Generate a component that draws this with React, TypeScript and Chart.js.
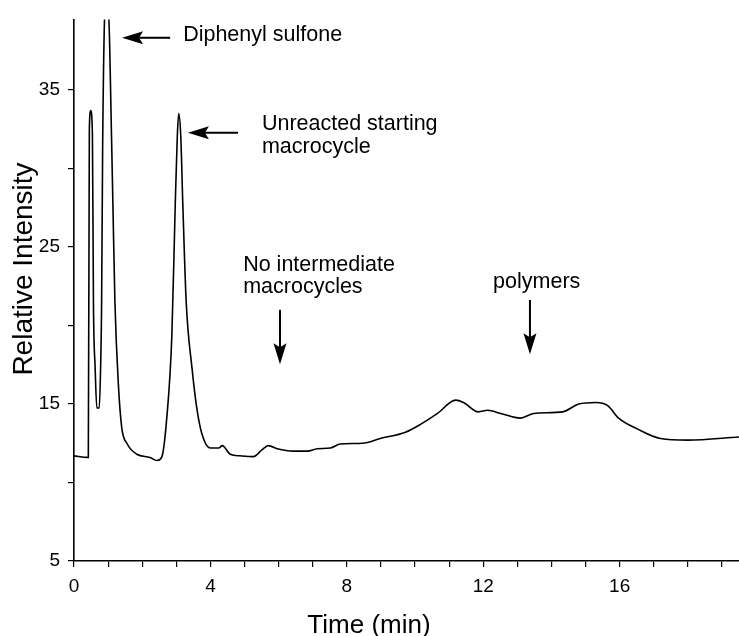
import React, { useEffect, useRef } from "react";
import { Chart, registerables } from "chart.js";

Chart.register(...registerables);

// Retention time (min)
const times = [0, 0.40, 0.42, 0.45, 0.49, 0.54, 0.57, 0.62, 0.67, 0.74, 0.78, 0.81, 0.84, 0.91, 0.97, 1.04, 1.08, 1.14, 1.20, 1.30, 1.40, 1.55, 1.84, 2.23, 2.43, 2.57, 2.72, 2.87, 2.97, 3.03, 3.07, 3.13, 3.19, 3.29, 3.46, 3.60, 3.75, 3.99, 4.24, 4.35, 4.58, 4.87, 5.26, 5.52, 5.70, 5.96, 6.43, 6.84, 7.13, 7.52, 7.81, 8.46, 8.98, 9.72, 10.16, 10.66, 11.19, 11.42, 11.86, 12.13, 12.51, 13.09, 13.48, 14.33, 14.80, 15.30, 15.65, 15.97, 16.53, 17.20, 18.0, 19.5];
// Relative intensity
const intensity = [11.7, 11.6, 11.6, 32.5, 33.7, 32.2, 21.5, 17.3, 14.75, 14.75, 17.3, 21.5, 31.4, 40.5, 41.5, 38.4, 34.2, 27.8, 21.5, 16.3, 13.5, 12.5, 11.8, 11.6, 11.4, 11.6, 14.1, 19.4, 27.8, 32.1, 33.5, 32.1, 27.8, 21.5, 17.3, 14.75, 13.1, 12.2, 12.2, 12.35, 11.8, 11.7, 11.65, 12.1, 12.35, 12.15, 12.0, 12.0, 12.15, 12.2, 12.45, 12.5, 12.8, 13.2, 13.7, 14.4, 15.25, 15.1, 14.5, 14.6, 14.4, 14.1, 14.4, 14.5, 15.0, 15.1, 14.9, 14.1, 13.4, 12.8, 12.7, 12.9];

const xTickValues = [0, 1, 2, 3, 4, 5, 6, 7, 8, 9, 10, 11, 12, 13, 14, 15, 16, 17, 18, 19];
const xTickLabels = ["0", "", "", "", "4", "", "", "", "8", "", "", "", "12", "", "", "", "16", "", "", ""];
const yTickValues = [5, 10, 15, 20, 25, 30, 35];
const yTickLabels = ["5", "", "15", "", "25", "", "35"];

const X_MIN = 0;
const X_MAX = 19.5;
const Y_MIN = 5;
const Y_MAX = 39.5;

const xTitle = "Time (min)";
const yTitle = "Relative Intensity";
// title anchor positions in data units
const xTitleAt = 8.65;
const yTitleAt = 23.6;

// Annotation texts (data coordinates: x in min, y = baseline intensity)
const noteTexts = ["Diphenyl sulfone", "Unreacted starting", "macrocycle", "No intermediate", "macrocycles", "polymers"];
const noteX = [3.2, 5.51, 5.51, 4.96, 4.96, 12.29];
const noteY = [38.1, 32.45, 31.0, 23.45, 22.05, 22.4];

// Arrows (tail -> tip) in data coordinates
const arrowFromX = [2.82, 4.81, 6.04, 13.37];
const arrowFromY = [38.33, 32.28, 21.0, 21.63];
const arrowToX = [1.41, 3.34, 6.04, 13.37];
const arrowToY = [38.33, 32.28, 17.54, 18.17];

const FONT = "'Liberation Sans', Arial, Helvetica, sans-serif";

const annotationPlugin = {
  id: "annotations",
  afterDraw(chart: any) {
    const { ctx, scales } = chart;
    const xs = scales.x;
    const ys = scales.y;
    ctx.save();
    ctx.fillStyle = "#000";
    ctx.strokeStyle = "#000";
    ctx.font = `21.5px ${FONT}`;
    ctx.textBaseline = "alphabetic";
    ctx.textAlign = "left";
    noteTexts.forEach((t, i) => {
      ctx.fillText(t, xs.getPixelForValue(noteX[i]), ys.getPixelForValue(noteY[i]));
    });
    for (let i = 0; i < arrowFromX.length; i++) {
      const x1 = xs.getPixelForValue(arrowFromX[i]);
      const y1 = ys.getPixelForValue(arrowFromY[i]);
      const x2 = xs.getPixelForValue(arrowToX[i]);
      const y2 = ys.getPixelForValue(arrowToY[i]);
      const ang = Math.atan2(y2 - y1, x2 - x1);
      const headLen = 21;
      const headHalf = 6.5;
      const bx = x2 - Math.cos(ang) * headLen;
      const by = y2 - Math.sin(ang) * headLen;
      ctx.lineWidth = 2;
      ctx.beginPath();
      ctx.moveTo(x1, y1);
      ctx.lineTo(bx + Math.cos(ang) * 4, by + Math.sin(ang) * 4);
      ctx.stroke();
      const px = -Math.sin(ang);
      const py = Math.cos(ang);
      ctx.beginPath();
      ctx.moveTo(x2, y2);
      ctx.lineTo(bx + px * headHalf, by + py * headHalf);
      ctx.lineTo(bx + Math.cos(ang) * 4, by + Math.sin(ang) * 4);
      ctx.lineTo(bx - px * headHalf, by - py * headHalf);
      ctx.closePath();
      ctx.fill();
    }
    // axis titles
    ctx.textAlign = "center";
    ctx.textBaseline = "alphabetic";
    ctx.font = `26px ${FONT}`;
    ctx.fillText(xTitle, xs.getPixelForValue(xTitleAt), chart.height - 3);
    ctx.save();
    ctx.font = `28px ${FONT}`;
    ctx.translate(32, ys.getPixelForValue(yTitleAt));
    ctx.rotate(-Math.PI / 2);
    ctx.fillText(yTitle, 0, 0);
    ctx.restore();
    ctx.restore();
  },
};

export default function App() {
  const ref = useRef<HTMLCanvasElement | null>(null);
  useEffect(() => {
    if (!ref.current) return;
    const chart = new Chart(ref.current, {
      type: "line",
      data: {
        datasets: [
          {
            data: times.map((t, i) => ({ x: t, y: intensity[i] })),
            borderColor: "#000",
            borderWidth: 1.6,
            pointRadius: 0,
            fill: false,
            cubicInterpolationMode: "monotone",
          },
        ],
      },
      options: {
        responsive: false,
        animation: false,
        devicePixelRatio: 1,
        layout: { padding: { top: 14, right: 0, left: 0, bottom: 0 } },
        plugins: { legend: { display: false }, tooltip: { enabled: false } },
        scales: {
          x: {
            type: "linear",
            min: X_MIN,
            max: X_MAX,
            afterBuildTicks: (s: any) => {
              s.ticks = xTickValues.map((v) => ({ value: v }));
            },
            afterFit: (s: any) => {
              s.height = 75;
            },
            grid: { drawOnChartArea: false, drawTicks: true, tickLength: 6, color: "#000", lineWidth: 1.2 },
            border: { display: true, color: "#000", width: 1.6 },
            ticks: {
              color: "#000",
              padding: 8,
              maxRotation: 0,
              autoSkip: false,
              font: { family: FONT, size: 19 },
              callback: (_v: any, i: number) => xTickLabels[i],
            },
          },
          y: {
            type: "linear",
            min: Y_MIN,
            max: Y_MAX,
            afterBuildTicks: (s: any) => {
              s.ticks = yTickValues.map((v) => ({ value: v }));
            },
            afterFit: (s: any) => {
              s.width = 74;
            },
            grid: { drawOnChartArea: false, drawTicks: true, tickLength: 6, color: "#000", lineWidth: 1.2 },
            border: { display: true, color: "#000", width: 1.6 },
            ticks: {
              color: "#000",
              padding: 8,
              autoSkip: false,
              font: { family: FONT, size: 19 },
              callback: (_v: any, i: number) => yTickLabels[i],
            },
          },
        },
      },
      plugins: [annotationPlugin],
    } as any);
    return () => chart.destroy();
  }, []);
  return (
    <div style={{ position: "fixed", left: 0, top: 0, width: 739, height: 636, background: "#fff" }}>
      <canvas ref={ref} width={739} height={636} style={{ width: 739, height: 636 }} />
    </div>
  );
}
